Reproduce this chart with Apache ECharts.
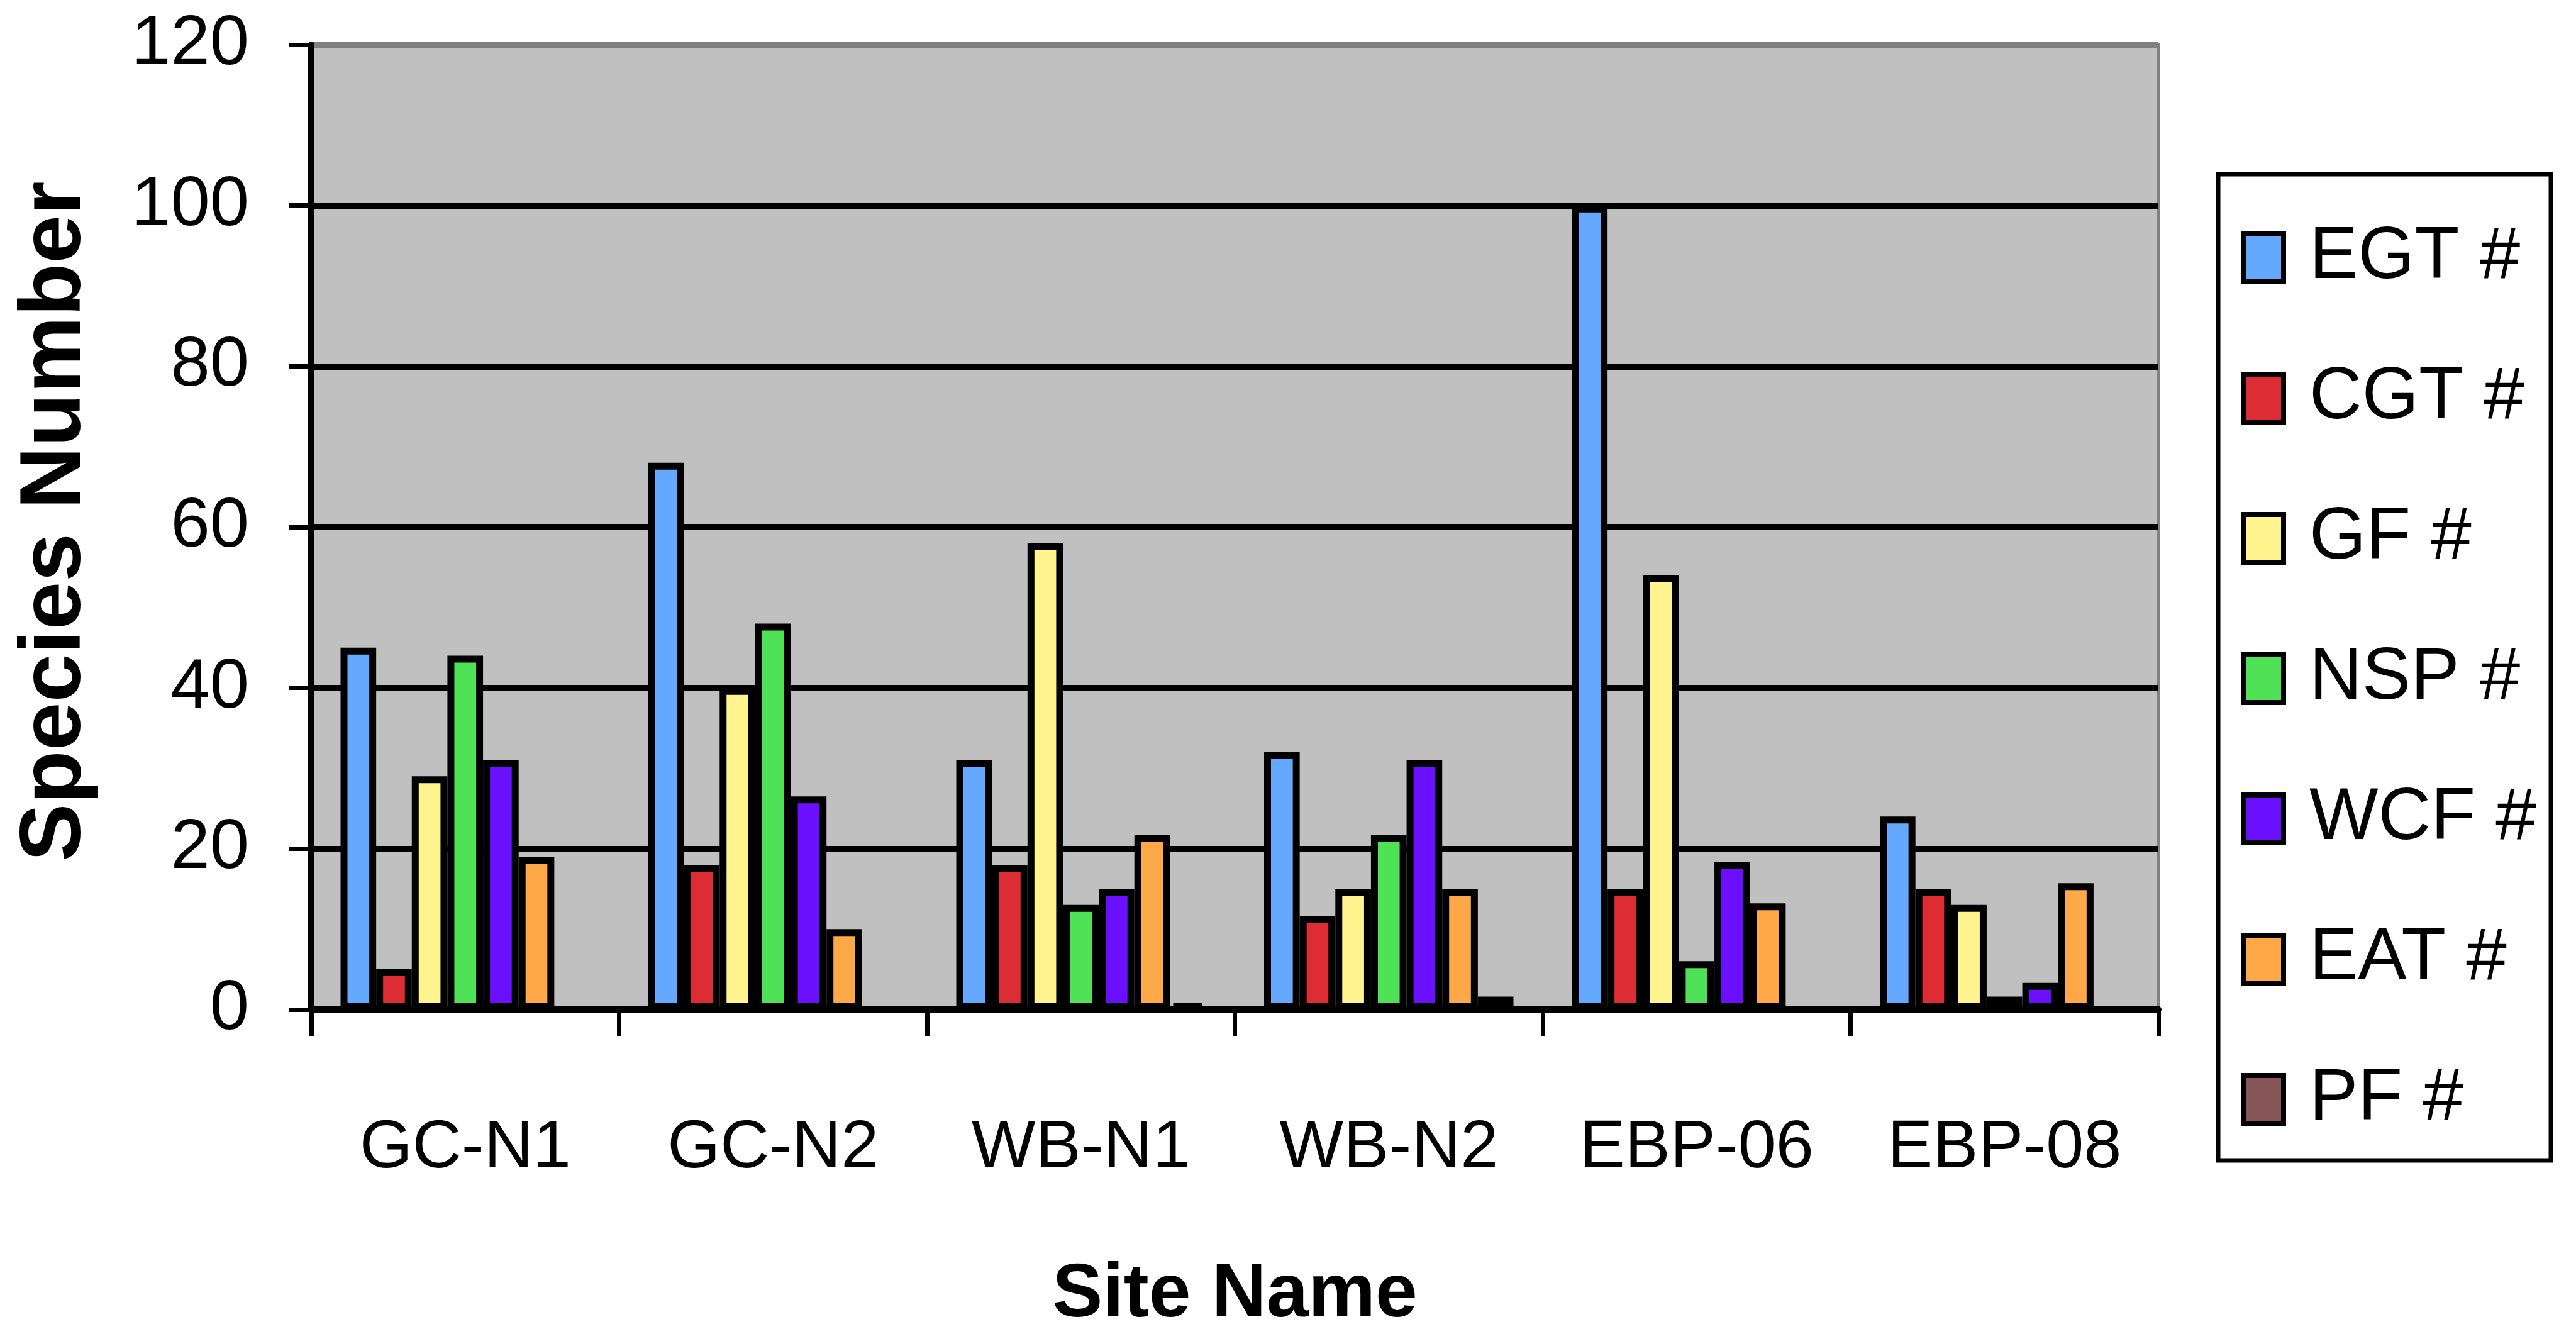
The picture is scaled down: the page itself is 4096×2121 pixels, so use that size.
<!DOCTYPE html>
<html>
<head>
<meta charset="utf-8">
<script src="https://cdn.jsdelivr.net/npm/echarts@6/dist/echarts.min.js"></script>
<style>
    html, body { margin: 0; padding: 0; background: #fff; }
    #chart { width: 4096px; height: 2121px; }
</style>
</head>
<body>
<div id="chart"></div>
<script>
// 站点名称
const sites = ["GC-N1", "GC-N2", "WB-N1", "WB-N2", "EBP-06", "EBP-08"];
// 各类群的物种数
const egt = [45, 68, 31, 32, 100, 24];
const cgt = [5, 18, 18, 11.6, 15, 15];
const gf = [29, 40, 58, 15, 54, 13];
const nsp = [44, 48, 13, 21.7, 6, 1.6];
const wcf = [31, 26.5, 15, 31, 18.3, 3.3];
const eat = [19, 10, 21.7, 15, 13.2, 15.7];
const pf = [0, 0, 0.8, 1.6, 0, 0];
// 纵轴刻度
const yTicks = [0, 20, 40, 60, 80, 100, 120];

const seriesList = [
    { name: "EGT #", data: egt, color: "#64A9FF" },
    { name: "CGT #", data: cgt, color: "#DD2C33" },
    { name: "GF #", data: gf, color: "#FFF48D" },
    { name: "NSP #", data: nsp, color: "#4FE256" },
    { name: "WCF #", data: wcf, color: "#6A10FF" },
    { name: "EAT #", data: eat, color: "#FEA848" },
    { name: "PF #", data: pf, color: "#865659" },
];

const sans = "'Liberation Sans', Arial, sans-serif";

const chart = echarts.init(document.getElementById("chart"));
chart.setOption({
    animation: false,
    backgroundColor: "#fff",
    grid: {
        left: 495,
        top: 71,
        width: 2937,
        height: 1534,
        outerBoundsMode: "none",
        show: true,
        backgroundColor: "#C0C0C0",
        borderColor: "#808080",
        borderWidth: 6,
    },
    legend: {
        orient: "vertical",
        left: 3564,
        top: 352,
        padding: 0,
        itemWidth: 63,
        itemHeight: 76,
        itemGap: 107,
        icon: "rect",
        itemStyle: { borderColor: "#000", borderWidth: 8 },
        textStyle: {
            fontFamily: sans,
            fontSize: 116,
            color: "#000",
            padding: [0, 0, 0, 36],
        },
        data: seriesList.map((s) => s.name),
    },
    graphic: [
        {
            type: "rect",
            z: -1,
            shape: { x: 3527, y: 277, width: 529, height: 1568 },
            style: { fill: "#fff", stroke: "#000", lineWidth: 7 },
        },
    ],
    xAxis: {
        type: "category",
        data: sites,
        z: 3,
        name: "Site Name",
        nameLocation: "middle",
        nameGap: 395,
        nameTextStyle: {
            fontFamily: sans,
            fontWeight: "bold",
            fontSize: 120,
            color: "#000",
        },
        axisLine: { lineStyle: { color: "#000", width: 10 } },
        axisTick: { show: true, interval: 0, length: 42, lineStyle: { color: "#000", width: 7 } },
        axisLabel: {
            interval: 0,
            fontFamily: sans,
            fontSize: 108,
            color: "#000",
            margin: 167,
        },
        splitLine: { show: false },
    },
    yAxis: {
        type: "value",
        min: 0,
        max: 120,
        interval: 20,
        name: "Species Number",
        nameLocation: "middle",
        nameRotate: 90,
        nameGap: 337,
        nameTextStyle: {
            fontFamily: sans,
            fontWeight: "bold",
            fontSize: 138,
            color: "#000",
            padding: [0, 0, 0, 18],
        },
        axisLine: { show: true, lineStyle: { color: "#000", width: 10 } },
        axisTick: { show: true, length: 36, lineStyle: { color: "#000", width: 7 } },
        axisLabel: {
            fontFamily: sans,
            fontSize: 112,
            color: "#000",
            margin: 99,
            formatter: (v) => (yTicks.indexOf(v) >= 0 ? String(v) : ""),
        },
        splitLine: {
            show: true,
            lineStyle: {
                color: ["#000", "#000", "#000", "#000", "#000", "#000", "#808080"],
                width: 10,
            },
        },
    },
    series: seriesList.map((s) => ({
        name: s.name,
        type: "bar",
        data: s.data,
        barGap: "0%",
        barCategoryGap: "19%",
        itemStyle: { color: s.color, borderColor: "#000", borderWidth: 11 },
    })),
});
</script>
</body>
</html>
